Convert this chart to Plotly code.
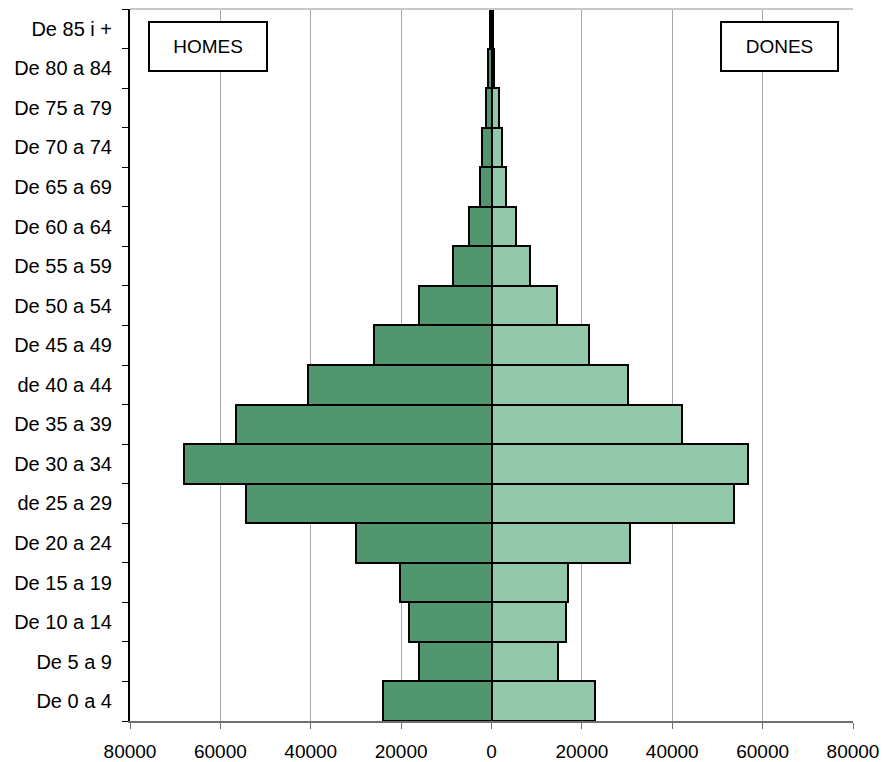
import plotly.graph_objects as go

categories = ["De 0 a 4", "De 5 a 9", "De 10 a 14", "De 15 a 19", "De 20 a 24",
              "de 25 a 29", "De 30 a 34", "De 35 a 39", "de 40 a 44", "De 45 a 49",
              "De 50 a 54", "De 55 a 59", "De 60 a 64", "De 65 a 69", "De 70 a 74",
              "De 75 a 79", "De 80 a 84", "De 85 i +"]
homes = [24100, 16000, 18150, 20200, 29950, 54300, 68150, 56500, 40500, 25900,
         16000, 8600, 4900, 2650, 2150, 1300, 800, 400]
dones = [22800, 14800, 16400, 16900, 30700, 53700, 56850, 42150, 30300, 21500,
         14400, 8600, 5500, 3250, 2350, 1550, 500, 300]
tick_vals = [-80000, -60000, -40000, -20000, 0, 20000, 40000, 60000, 80000]
tick_text = ["80000", "60000", "40000", "20000", "0", "20000", "40000", "60000", "80000"]

font = "Liberation Sans, Arial, sans-serif"

fig = go.Figure()
fig.add_trace(go.Bar(y=categories, x=[-v for v in homes], orientation="h", name="Homes",
                     marker=dict(color="rgb(82,150,112)", line=dict(color="black", width=2))))
fig.add_trace(go.Bar(y=categories, x=dones, orientation="h", name="Dones",
                     marker=dict(color="rgb(148,200,171)", line=dict(color="black", width=2))))

fig.update_layout(
    width=885, height=762,
    margin=dict(l=130, r=32, t=9, b=41),
    barmode="relative", bargap=0,
    showlegend=False,
    plot_bgcolor="white", paper_bgcolor="white",
    font=dict(family=font, size=20, color="black"),
    xaxis=dict(range=[-80000, 80000], tickvals=tick_vals, ticktext=tick_text,
               automargin=False,
               showgrid=True, gridcolor="#A8A8A8", gridwidth=1, zeroline=False,
               showline=True, linecolor="#707070", linewidth=2,
               ticks="outside", ticklen=6, tickcolor="#707070", tickwidth=1,
               ticklabelstandoff=6,
               tickfont=dict(family=font, size=19, color="black")),
    yaxis=dict(categoryorder="array", categoryarray=categories,
               automargin=False,
               showline=True, linecolor="black", linewidth=2,
               ticks="outside", ticklen=6, tickcolor="black", tickson="boundaries",
               ticklabelstandoff=12, showgrid=False,
               tickfont=dict(family=font, size=20, color="black")),
    shapes=[
        dict(type="line", xref="paper", yref="paper", x0=0, x1=1, y0=1, y1=1,
             line=dict(color="#C8C8C8", width=2)),
    ],
    annotations=[
        dict(text="HOMES", xref="paper", yref="paper", x=(208 - 130) / 723, y=1 - (47 - 9) / 712,
             showarrow=False, font=dict(family=font, size=19, color="black"),
             bordercolor="black", borderwidth=2, bgcolor="white", width=114, height=45,
             xanchor="center", yanchor="middle"),
        dict(text="DONES", xref="paper", yref="paper", x=(779 - 130) / 723, y=1 - (47 - 9) / 712,
             showarrow=False, font=dict(family=font, size=19, color="black"),
             bordercolor="black", borderwidth=2, bgcolor="white", width=113, height=45,
             xanchor="center", yanchor="middle"),
    ],
)

fig.write_html("out.html", config={"displayModeBar": False},
               post_script="document.body.style.margin='0';document.body.style.overflow='hidden';")
